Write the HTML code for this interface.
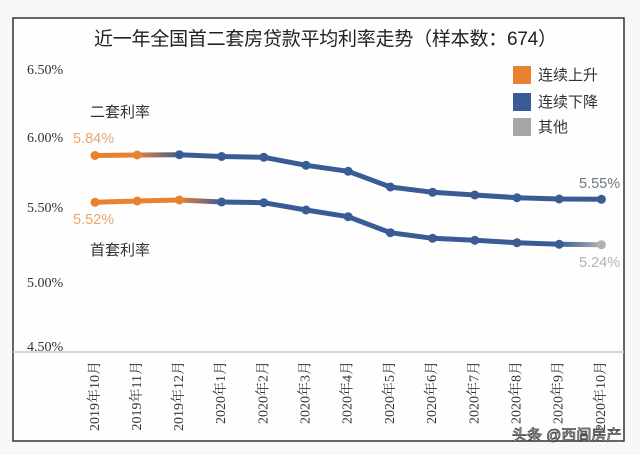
<!DOCTYPE html>
<html><head><meta charset="utf-8"><style>
html,body{margin:0;padding:0;background:#f8f8f8;}
svg{display:block;}
</style></head><body>
<svg width="640" height="455" viewBox="0 0 640 455" xmlns="http://www.w3.org/2000/svg">
<defs>
<linearGradient id="g1" gradientUnits="userSpaceOnUse" x1="137.2" y1="0" x2="179.4" y2="0"><stop offset="0" stop-color="#e8822f"/><stop offset="1" stop-color="#3a5c94"/></linearGradient>
<linearGradient id="g2" gradientUnits="userSpaceOnUse" x1="179.4" y1="0" x2="221.6" y2="0"><stop offset="0" stop-color="#e8822f"/><stop offset="1" stop-color="#3a5c94"/></linearGradient>
<linearGradient id="g3" gradientUnits="userSpaceOnUse" x1="559.2" y1="0" x2="601.4" y2="0"><stop offset="0" stop-color="#3a5c94"/><stop offset="1" stop-color="#b0b0b0"/></linearGradient>
</defs>
<rect x="13" y="18" width="611" height="423" fill="#fefefe" stroke="#333" stroke-width="1.5"/>
<text x="94" y="45" textLength="463" font-family="Liberation Sans, Noto Sans CJK SC, sans-serif" font-size="19" fill="#222">近一年全国首二套房贷款平均利率走势（样本数：674）</text>
<g font-family="Liberation Serif, Noto Serif CJK SC, serif" font-size="14" fill="#333">
<text x="27" y="74">6.50%</text>
<text x="27" y="142">6.00%</text>
<text x="27" y="212">5.50%</text>
<text x="27" y="287">5.00%</text>
<text x="27" y="351">4.50%</text>
</g>
<line x1="13" y1="352" x2="624" y2="352" stroke="#c8c8c8" stroke-width="1.5"/>
<rect x="513" y="66" width="18" height="18" fill="#e8822f"/>
<rect x="513" y="93" width="18" height="18" fill="#3a5c94"/>
<rect x="513" y="118" width="18" height="18" fill="#a8a5a8"/>
<g font-family="Liberation Sans, Noto Sans CJK SC, sans-serif" font-size="15" fill="#333">
<text x="538" y="80">连续上升</text>
<text x="538" y="107">连续下降</text>
<text x="538" y="132">其他</text>
<text x="90" y="117">二套利率</text>
<text x="90" y="255">首套利率</text>
</g>
<g font-family="Liberation Sans, sans-serif" font-size="14.5">
<text x="73" y="143" fill="#e9a66f">5.84%</text>
<text x="73" y="224" fill="#e9a66f">5.52%</text>
<text x="579" y="188" fill="#6f7985">5.55%</text>
<text x="579" y="267" fill="#b2b2b2">5.24%</text>
</g>
<g fill="none" stroke-width="5" stroke-linecap="round" stroke-linejoin="round">
<polyline points="95,155.5 137.2,155" stroke="#e8822f"/>
<polyline points="137.2,155 179.4,154.7" stroke="url(#g1)"/>
<polyline points="179.4,154.7 221.6,156.5 263.8,157.3 306,165.3 348.2,171.3 390.4,187 432.6,192.3 474.8,195 517,197.7 559.2,199 601.4,199.3" stroke="#3a5c94"/>
<polyline points="95,202.3 137.2,201 179.4,200" stroke="#e8822f"/>
<polyline points="179.4,200 221.6,202" stroke="url(#g2)"/>
<polyline points="221.6,202 263.8,202.7 306,210 348.2,216.7 390.4,232.7 432.6,238.3 474.8,240.3 517,242.7 559.2,244.3" stroke="#3a5c94"/>
<polyline points="559.2,244.3 601.4,244.7" stroke="url(#g3)"/>
</g>
<g fill="#e8822f">
<circle cx="95" cy="155.5" r="4.5"/><circle cx="137.2" cy="155" r="4.5"/>
<circle cx="95" cy="202.3" r="4.5"/><circle cx="137.2" cy="201" r="4.5"/><circle cx="179.4" cy="200" r="4.5"/>
</g>
<g fill="#3a5c94">
<circle cx="179.4" cy="154.7" r="4.5"/><circle cx="221.6" cy="156.5" r="4.5"/><circle cx="263.8" cy="157.3" r="4.5"/><circle cx="306" cy="165.3" r="4.5"/><circle cx="348.2" cy="171.3" r="4.5"/><circle cx="390.4" cy="187" r="4.5"/><circle cx="432.6" cy="192.3" r="4.5"/><circle cx="474.8" cy="195" r="4.5"/><circle cx="517" cy="197.7" r="4.5"/><circle cx="559.2" cy="199" r="4.5"/><circle cx="601.4" cy="199.3" r="4.5"/>
<circle cx="221.6" cy="202" r="4.5"/><circle cx="263.8" cy="202.7" r="4.5"/><circle cx="306" cy="210" r="4.5"/><circle cx="348.2" cy="216.7" r="4.5"/><circle cx="390.4" cy="232.7" r="4.5"/><circle cx="432.6" cy="238.3" r="4.5"/><circle cx="474.8" cy="240.3" r="4.5"/><circle cx="517" cy="242.7" r="4.5"/><circle cx="559.2" cy="244.3" r="4.5"/>
</g>
<circle cx="601.4" cy="244.7" r="4.5" fill="#b0b0b0"/>
<g font-family="Liberation Serif, Noto Serif CJK SC, serif" font-size="14" fill="#333" text-anchor="end" dominant-baseline="central">
<text transform="translate(95.5,361) rotate(-90)">2019年10月</text>
<text transform="translate(137.5,361) rotate(-90)">2019年11月</text>
<text transform="translate(179.5,361) rotate(-90)">2019年12月</text>
<text transform="translate(221.6,361) rotate(-90)">2020年1月</text>
<text transform="translate(263.8,361) rotate(-90)">2020年2月</text>
<text transform="translate(306,361) rotate(-90)">2020年3月</text>
<text transform="translate(348.2,361) rotate(-90)">2020年4月</text>
<text transform="translate(390.4,361) rotate(-90)">2020年5月</text>
<text transform="translate(432.6,361) rotate(-90)">2020年6月</text>
<text transform="translate(474.8,361) rotate(-90)">2020年7月</text>
<text transform="translate(517,361) rotate(-90)">2020年8月</text>
<text transform="translate(559.2,361) rotate(-90)">2020年9月</text>
<text transform="translate(601.4,361) rotate(-90)">2020年10月</text>
</g>
<text x="512" y="440" font-family="Liberation Sans, Noto Sans CJK SC, sans-serif" font-size="15" fill="#fff" stroke="#444" stroke-width="0.8">头条 @西闾房产</text>
</svg>
</body></html>
